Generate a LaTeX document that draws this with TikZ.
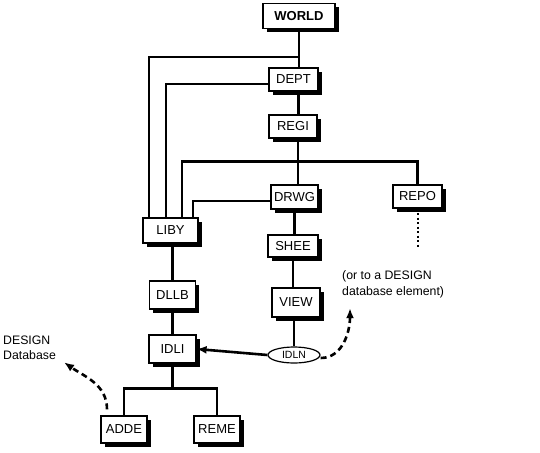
\documentclass[tikz,border=0pt]{standalone}
\usepackage{fontspec}
\setmainfont{Liberation Sans}
\usepackage{tikz}
\usetikzlibrary{shadows,shapes.geometric,arrows.meta}

\begin{document}
\begin{tikzpicture}[x=1pt, y=-1pt,
    elem/.style={draw, fill=white, line width=1.2pt, inner sep=0pt,
        font=\fontsize{13}{15}\selectfont,
        drop shadow={shadow xshift=3.5pt, shadow yshift=-3.5pt, fill=black, opacity=1}},
    link/.style={line width=2.6pt},
    note/.style={align=left, inner sep=0pt, font=\fontsize{12.3}{15.5}\selectfont},
    tip/.style={-{Latex[length=10pt,width=8pt]}},
    hint/.style={line width=2.6pt, dash pattern=on 6pt off 4pt}]
    \useasboundingbox (0,0) rectangle (540,452);

    \node[elem, minimum width=72pt, minimum height=25pt, font=\fontsize{13}{15}\selectfont\bfseries] (world) at (299, 16) {WORLD};
    \node[elem, minimum width=49pt, minimum height=23pt] (dept) at (293.5, 79.5) {DEPT};
    \node[elem, minimum width=48pt, minimum height=23pt] (regi) at (293, 126.5) {REGI};
    \node[elem, minimum width=47pt, minimum height=24pt] (drwg) at (294.5, 197) {DRWG};
    \node[elem, minimum width=49pt, minimum height=23pt] (repo) at (417.5, 196.5) {REPO};
    \node[elem, minimum width=55pt, minimum height=25pt] (liby) at (170.5, 230.5) {LIBY};
    \node[elem, minimum width=50pt, minimum height=22pt] (shee) at (293, 246) {SHEE};
    \node[elem, minimum width=48pt, minimum height=29pt] (view) at (296, 302.5) {VIEW};
    \node[elem, minimum width=46pt, minimum height=28pt] (dllb) at (172.5, 295) {DLLB};
    \node[elem, minimum width=47pt, minimum height=28pt] (idli) at (172.5, 349) {IDLI};
    \node[elem, minimum width=46pt, minimum height=27pt] (adde) at (124, 429.5) {ADDE};
    \node[elem, minimum width=46pt, minimum height=27pt] (reme) at (217, 429.5) {REME};
    \node[draw, ellipse, line width=1.2pt, inner sep=0pt, minimum width=52pt, minimum height=16pt,
        font=\fontsize{10.5}{12}\selectfont] (idln) at (294, 355) {IDLN};

    \node[note, anchor=west] (dbnote) at (3, 348) {DESIGN\\Database};
    \node[note, anchor=west] (elnote) at (342, 284.5) {(or to a DESIGN\\database element)};

    % main spine
    \draw[link] (world.south) -- (world.south |- dept.north);
    \draw[link] ([xshift=5pt]dept.south) -- ([xshift=5pt]dept.south |- regi.north);
    \draw[link] ([xshift=5pt]regi.south) -- ([xshift=5pt]regi.south |- drwg.north);
    \draw[link] (drwg.south) -- (drwg.south |- shee.north);
    \draw[link] (shee.south) -- (shee.south |- view.north);
    \draw[link] (view.south -| idln.north) -- (idln.north);

    % links into LIBY
    \draw[link] ([yshift=-28pt]world.south) -| ([xshift=-21.5pt]liby.north);
    \draw[link] ([yshift=-4.5pt]dept.west) -| ([xshift=-4.5pt]liby.north);
    \draw[link] ([xshift=11.5pt]liby.north) |- ([xshift=5pt, yshift=-23pt]regi.south) -| (repo.north);
    \draw[link] ([yshift=-4pt]drwg.west) -| ([xshift=22.5pt]liby.north);
    \draw[line width=2pt, dash pattern=on 2pt off 2.5pt] (repo.south) -- ++(0,38);

    % library chain
    \draw[link] (liby.south -| dllb.north) -- (dllb.north);
    \draw[link] (dllb.south) -- (idli.north);
    \draw[link] (idli.south) -- ++(0,25);
    \draw[link] (adde.north) |- ([yshift=-25pt]idli.south) -| (reme.north);

    % references
    \draw[link, tip] (idln.west) -- (idli.east);
    \draw[hint, tip] ([xshift=-17pt, yshift=6pt]adde.north) to[out=90, in=-35] ([xshift=8pt, yshift=-2pt]dbnote.south east);
    \draw[hint, tip] ([yshift=-3pt]idln.east) to[out=0, in=-90] ([xshift=8pt, yshift=-10pt]elnote.south west);
\end{tikzpicture}
\end{document}
